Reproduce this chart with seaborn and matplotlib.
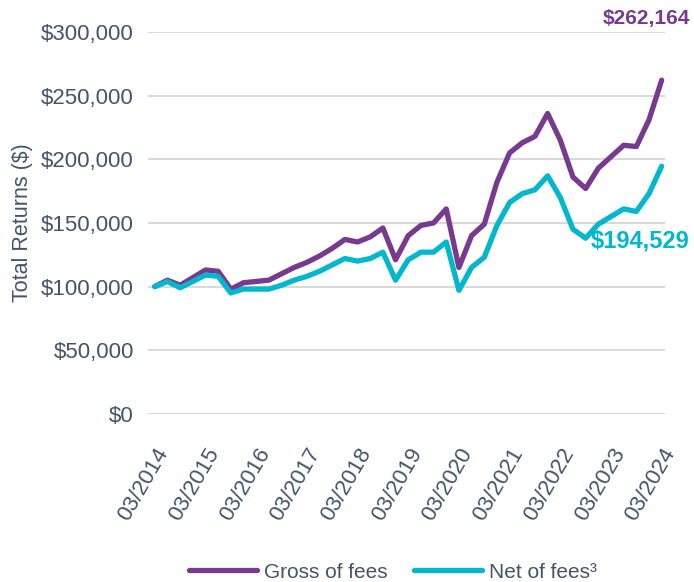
import seaborn as sns
import matplotlib.pyplot as plt
import matplotlib.transforms as mtransforms
import pandas as pd
from matplotlib.ticker import FuncFormatter

# quarterly growth of $100,000, 03/2014 - 03/2024
quarters = [f"{m:02d}/{y}" for y in range(2014, 2025) for m in (3, 6, 9, 12)][:41]
gross = [100000, 105000, 101000, 107000, 113000, 112000, 98000, 103000, 104000, 105000,
         110000, 115000, 119000, 124000, 130000, 137000, 135000, 139000, 146000, 121000,
         140000, 148000, 150000, 161000, 115000, 140000, 149000, 182000, 205000, 213000,
         218000, 236000, 215000, 186000, 177000, 193000, 202000, 211000, 210000, 231000,
         262164]
net = [100000, 104000, 99000, 104000, 109000, 108000, 95000, 98000, 98000, 98000,
       101000, 105000, 108000, 112000, 117000, 122000, 120000, 122000, 127000, 105000,
       121000, 127000, 127000, 135000, 97000, 115000, 123000, 148000, 166000, 173000,
       176000, 187000, 170000, 145000, 138000, 149000, 155000, 161000, 159000, 173000,
       194529]
series = ["Gross of fees", "Net of fees³"]

purple = "#773A8E"
cyan = "#00B7CD"
txt = "#44546A"

df = pd.DataFrame({
    "q": list(range(len(quarters))) * 2,
    "value": gross + net,
    "series": [series[0]] * len(gross) + [series[1]] * len(net),
})

sns.set_style("white")
plt.rcParams["font.family"] = ["Liberation Sans", "DejaVu Sans"]

fig = plt.figure(figsize=(6.94, 5.82), dpi=100)
ax = fig.add_axes([0.213, 0.289, 0.745, 0.656])

sns.lineplot(data=df, x="q", y="value", hue="series", palette=[purple, cyan],
             linewidth=3.8, ax=ax, legend=False)

ax.set_ylim(0, 300000)
ax.set_xlim(-0.55, 40.25)
ax.set_yticks(range(0, 300001, 50000))
ax.yaxis.set_major_formatter(FuncFormatter(lambda v, p: f"${v:,.0f}"))
ax.set_xticks(range(0, 41, 4))
ax.set_xticklabels(quarters[::4], rotation=60, ha="right", rotation_mode="anchor")
shift = mtransforms.ScaledTranslation(-0.06, 0, fig.dpi_scale_trans)
for lab in ax.get_xticklabels():
    lab.set_transform(lab.get_transform() + shift)
ax.grid(axis="y", color="#D9D9D9", linewidth=1.5)
ax.set_axisbelow(True)
for s in ax.spines.values():
    s.set_visible(False)
ax.tick_params(axis="both", length=0, labelsize=16, colors=txt)
ax.tick_params(axis="x", pad=22)
ax.tick_params(axis="y", pad=10)
ax.set_xlabel("")
ax.set_ylabel("Total Returns ($)", fontsize=15.5, color=txt, labelpad=6)

ax.annotate(f"${gross[-1]:,}", (40, gross[-1]), xytext=(28, 62), textcoords="offset pixels",
            ha="right", va="center", fontsize=15, fontweight="bold", color=purple)
ax.annotate(f"${net[-1]:,}", (40, net[-1]), xytext=(28, -75), textcoords="offset pixels",
            ha="right", va="center", fontsize=17, fontweight="bold", color=cyan)

handles = [plt.Line2D([], [], color=c, linewidth=3.8) for c in (purple, cyan)]
leg = fig.legend(handles, series, loc="center", bbox_to_anchor=(0.566, 0.017), ncol=2,
                 frameon=False, fontsize=15, handlelength=3.25, columnspacing=1.3,
                 handletextpad=0.33)
for t in leg.get_texts():
    t.set_color(txt)

fig.savefig("out.png", dpi=100)
